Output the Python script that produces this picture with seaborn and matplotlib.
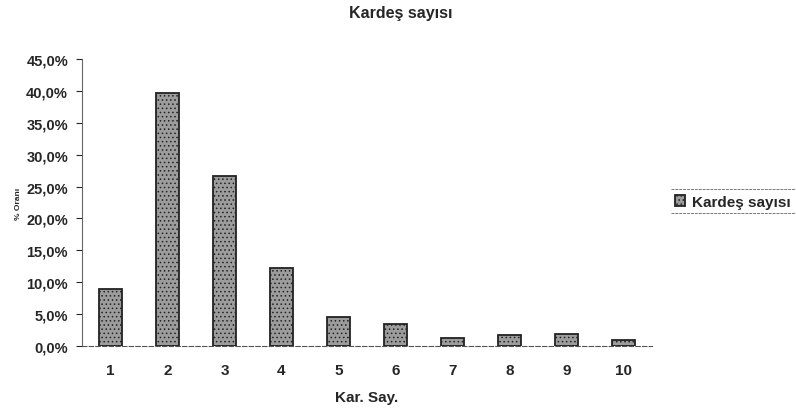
import matplotlib
matplotlib.use("Agg")
import matplotlib.pyplot as plt
import seaborn as sns
import pandas as pd
from matplotlib.ticker import FuncFormatter, MultipleLocator
from matplotlib.lines import Line2D

categories = ["1", "2", "3", "4", "5", "6", "7", "8", "9", "10"]
values = [8.9, 39.7, 26.6, 12.2, 4.5, 3.4, 1.2, 1.7, 1.9, 0.9]
series_name = "Kardeş sayısı"

df = pd.DataFrame({"cat": categories, "val": values, "series": series_name})

sns.set_theme(style="white")
plt.rcParams["font.family"] = ["Liberation Sans", "DejaVu Sans"]
plt.rcParams["hatch.color"] = "#555555"
plt.rcParams["hatch.linewidth"] = 0.6

fig = plt.figure(figsize=(7.96, 4.14), dpi=100)
ax = fig.add_axes([0.103, 0.162, 0.716, 0.693])

sns.barplot(data=df, x="cat", y="val", hue="series", palette=["#9c9c9c"],
            width=0.39, edgecolor="#222222", linewidth=1.3, ax=ax)
for p in ax.patches:
    p.set_hatch("....")

ax.set_ylim(0, 45)
ax.yaxis.set_major_locator(MultipleLocator(5))
ax.yaxis.set_major_formatter(FuncFormatter(lambda v, p: f"{v:.1f}%".replace(".", ",")))
ax.tick_params(axis="y", left=True, length=4, width=0.8, labelsize=10.5, pad=6)
ax.tick_params(axis="x", bottom=False, labelsize=11, pad=6)
for lab in ax.get_xticklabels() + ax.get_yticklabels():
    lab.set_fontweight("bold")

for s in ["top", "right"]:
    ax.spines[s].set_visible(False)
ax.spines["left"].set_color("#666666")
ax.spines["left"].set_linewidth(0.8)
ax.spines["bottom"].set_color("#555555")
ax.spines["bottom"].set_linewidth(0.8)
ax.spines["bottom"].set_linestyle((0, (4, 2)))

ax.set_xlabel("Kar. Say.", fontsize=11, fontweight="bold", labelpad=10)
ax.set_ylabel("% Oranı", fontsize=6, fontweight="bold", labelpad=3)
fig.suptitle("Kardeş sayısı", x=0.503, y=0.985, fontsize=11.5, fontweight="bold")

leg = ax.legend(loc="center left", bbox_to_anchor=(1.04, 0.502), frameon=False,
                fontsize=11, handlelength=0.7, handleheight=0.7, handletextpad=0.45,
                borderaxespad=0, borderpad=0)
for t in leg.get_texts():
    t.set_fontweight("bold")
leg.legend_handles[0].set_hatch("....")

fig.add_artist(Line2D([0.843, 1.0], [0.541, 0.541], color="#777777", lw=0.7,
                      linestyle=(0, (3, 1)), transform=fig.transFigure))
fig.add_artist(Line2D([0.843, 1.0], [0.483, 0.483], color="#777777", lw=0.7,
                      linestyle=(0, (3, 1)), transform=fig.transFigure))

fig.savefig("out.png", dpi=100)
